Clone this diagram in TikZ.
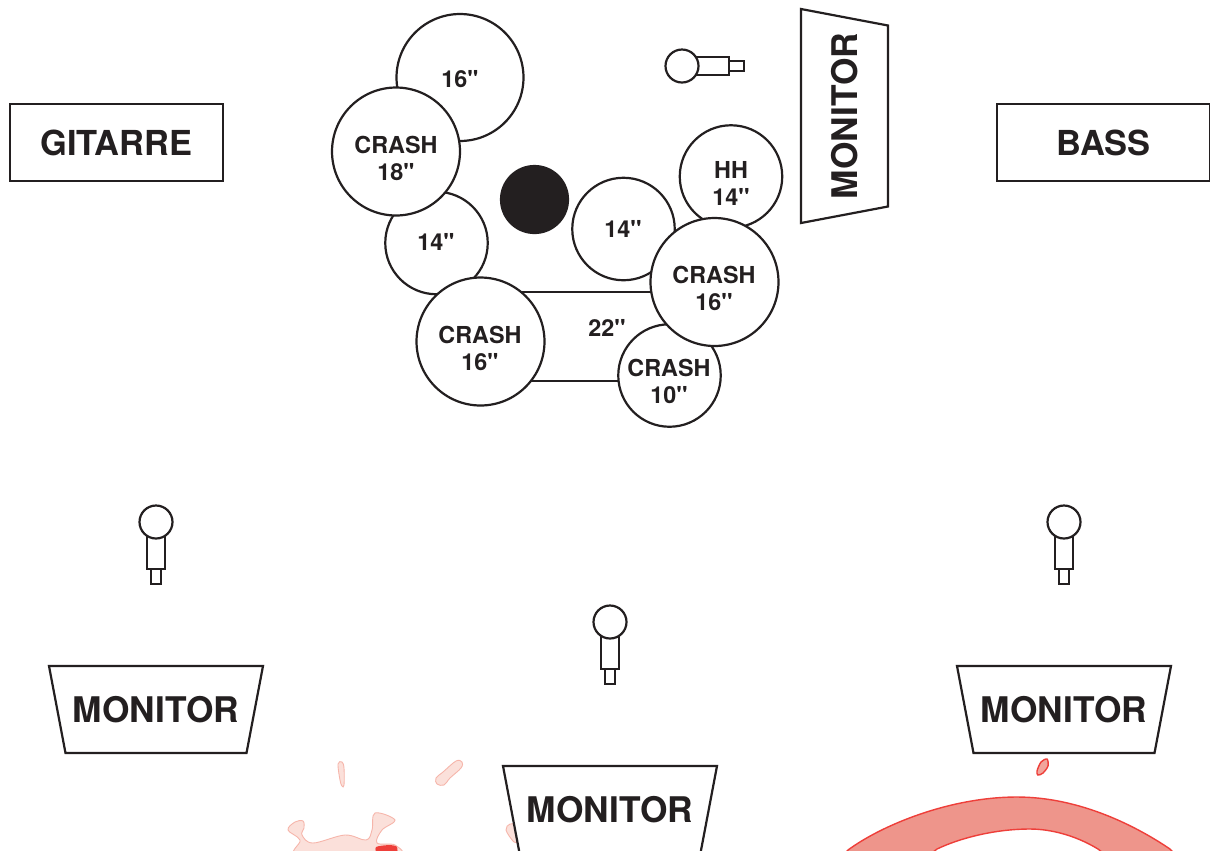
\documentclass[tikz,border=0pt]{standalone}
\usepackage{fontspec}
\newfontfamily\stagefont{TeX Gyre Heros}
\definecolor{ink}{HTML}{231F20}
\definecolor{stainedge}{HTML}{EE3F3A}
\definecolor{stainfill}{HTML}{EE958B}
\definecolor{paleedge}{HTML}{F6B5AA}
\definecolor{palefill}{HTML}{FBE0DA}
\tikzset{
    drum/.style={circle,draw=ink,fill=white,line width=1.25pt,inner sep=0pt,outer sep=0pt},
    drumlabel/.style={text=ink,align=center,inner sep=0pt,font=\stagefont\bfseries\fontsize{13.3}{15.4}\selectfont},
    bigbox/.style={rectangle,draw=ink,fill=white,line width=1.25pt,outer sep=0pt,minimum width=4.26cm,minimum height=1.54cm,text=ink,font=\stagefont\bfseries\fontsize{19.6}{22}\selectfont},
    monitorlabel/.style={text=ink,inner sep=0pt,transform shape,font=\stagefont\bfseries\fontsize{20.1}{22}\selectfont},
    stain/.style={draw=stainedge,fill=stainfill,line width=0.8pt},
    palestain/.style={draw=paleedge,fill=palefill,line width=0.5pt},
    monitor/.pic={
        \draw[draw=ink,fill=white,line width=1.25pt] (-107,-43.5) -- (107,-43.5) -- (90.5,43.5) -- (-90.5,43.5) -- cycle;
        \node[monitorlabel] (label) at (0,0) {MONITOR};
    },
    mic/.pic={
        \draw[draw=ink,line width=1.25pt] (-5,47) rectangle (5,62);
        \draw[draw=ink,fill=white,line width=1.25pt] (-9,10) rectangle (9,47);
        \draw[draw=ink,fill=white,line width=1.25pt] (0,0) circle (16.5);
    }
}
\begin{document}
\begin{tikzpicture}[x=0.02cm,y=-0.02cm]
    \clip (0,0) rectangle (1210,850);
    \fill[white] (0,0) rectangle (1210,850);
    % Stains
    \path[stain] (830,870) -- (848,850) .. controls (882,825) and (950,797) .. (1017,797) .. controls (1075,797) and (1130,822) .. (1170,849) -- (1190,870) -- (1125,870) -- (1098,849) .. controls (1075,835) and (1050,829) .. (1030,829) .. controls (995,829) and (960,838) .. (937,849) -- (910,870) -- cycle;
    \path[stain,fill=stainfill!85!white] plot[smooth cycle] coordinates {(1037,771) (1041,762) (1047,759) (1048,766) (1043,773) (1038,775)};
    \path[palestain] plot[smooth cycle,tension=0.6] coordinates {(338,764) (342,762) (344,768) (344,785) (342,786) (340,780)};
    \path[palestain] plot[smooth cycle,tension=0.6] coordinates {(436,778) (443,772) (456,761) (462,762) (461,768) (450,778) (444,785) (437,784)};
    \path[palestain] plot[smooth cycle,tension=0.6] coordinates {(288,830) (295,822) (303,821) (304,828) (302,835) (313,843) (345,835) (366,840) (372,830) (375,813) (395,820) (382,830) (377,843) (395,845) (395,856) (300,856) (300,840)};
    \path[stain,draw=none,fill=stainedge] plot[smooth cycle,tension=0.4] coordinates {(376,847) (390,845) (397,847) (396,856) (378,856)};
    \path[palestain] plot[smooth cycle,tension=0.6] coordinates {(506,830) (510,824) (516,826) (518,840) (514,842)};
    % Drums and cymbals
    \node[rectangle,draw=ink,fill=white,line width=1.25pt,outer sep=0pt,inner sep=0pt,minimum width=4.2cm,minimum height=1.78cm] (kick) at (575,336.5) {};
    \node[drumlabel] (kicklabel) at (607,328) {22''};
    \node[drum,minimum size=2.54cm] (tomA) at (460,77.5) {};
    \node[drum,minimum size=2.05cm] (tomB) at (436.5,243) {};
    \node[drum,minimum size=2.56cm] (crashA) at (396,151.5) {};
    \node[drum,minimum size=2.05cm] (tomC) at (623.5,229) {};
    \node[drum,minimum size=2.05cm] (hihat) at (731,176.5) {};
    \node[drum,minimum size=2.05cm] (crashD) at (669.5,375.5) {};
    \node[drum,minimum size=2.56cm] (crashB) at (714.5,282) {};
    \node[drum,minimum size=2.56cm] (crashC) at (480.5,341.5) {};
    \node[drum,fill=ink,minimum size=1.34cm] (throne) at (534.5,199.5) {};
    \node[drumlabel] (tomAlabel) at (460,79) {16''};
    \node[drumlabel] (tomBlabel) at (436,242) {14''};
    \node[drumlabel] (tomClabel) at (623,229) {14''};
    \node[drumlabel] (crashAlabel) at (396,158.3) {CRASH\\18''};
    \node[drumlabel] (hihatlabel) at (731,183.3) {HH\\14''};
    \node[drumlabel] (crashBlabel) at (714,288.8) {CRASH\\16''};
    \node[drumlabel] (crashClabel) at (480,348.3) {CRASH\\16''};
    \node[drumlabel] (crashDlabel) at (669,381.8) {CRASH\\10''};
    % Amps
    \node[bigbox] (gitarre) at (116.5,142.5) {GITARRE};
    \node[bigbox] (bass) at (1103.5,142.5) {BASS};
    % Monitors
    \pic (monitorA) at (156,709.5) {monitor};
    \pic (monitorB) at (1064,709.5) {monitor};
    \pic (monitorC) at (610,809.5) {monitor};
    \pic[rotate=90] (monitorD) at (844.5,116) {monitor};
    % Mics
    \foreach \micx/\micy in {156/522,1064/522,610/622}
        \pic at (\micx,\micy) {mic};
    \pic[rotate=90] at (682,66) {mic};
\end{tikzpicture}
\end{document}
